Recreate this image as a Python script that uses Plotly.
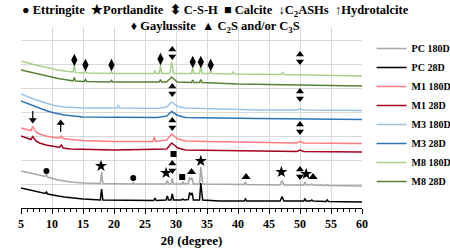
import plotly.graph_objects as go

# ---------------- data (2θ in degrees, relative intensity with offsets) ----------------
m8_180_x = [5, 6, 7, 8, 9, 10, 11, 12, 13, 13.4, 13.6, 13.8, 15.2, 15.4, 15.6, 19.4, 19.6, 19.8,
            26.4, 26.6, 26.8, 27.3, 27.5, 27.7, 29.0, 29.3, 29.6, 32.5, 32.7, 32.9, 33.8, 34.0, 34.2,
            35.4, 35.6, 35.8, 39.0, 39.2, 39.4, 47.0, 47.2, 47.4, 60]
m8_180_y = [147, 145, 143.5, 142, 140.5, 139, 138, 137, 136, 136, 143, 135.5, 135, 137, 135, 134.5, 136.5, 134.5,
            134.5, 137.5, 134.5, 134.5, 143, 134.5, 134.5, 146, 134.5, 134.5, 140, 134.5, 134.5, 142, 134.5,
            134.5, 137.5, 134.5, 134, 136, 134, 133.5, 136, 133.5, 132]

m8_28_x = [5, 7, 9, 11, 13, 13.4, 13.6, 13.8, 15.2, 15.4, 15.6, 19.4, 19.6, 19.8, 27.3, 27.5, 27.7,
           28.5, 29.3, 30.2, 32.5, 32.7, 32.9, 33.8, 34.0, 34.2, 40, 60]
m8_28_y = [138, 135, 132, 129.5, 127.5, 127, 130.5, 127, 126.5, 128.5, 126.5, 126, 127.5, 126, 126, 128.5, 126,
           126, 131, 126, 125.5, 128, 125.5, 125.5, 128.5, 125.5, 124, 122]

m3_180_x = [5, 7, 9, 10.4, 12, 15, 20.5, 20.7, 20.9, 27, 28.5, 29.3, 30.3, 31.5, 43, 49.5, 50, 50.5, 60]
m3_180_y = [114, 109, 105, 102.5, 101, 100, 100, 103, 100, 99.5, 101, 106, 101.5, 100, 98, 98, 99, 98, 97.5]

m3_28_x = [5, 7, 9, 10.4, 12, 15, 27, 28.5, 29.3, 30.3, 31.5, 43, 60]
m3_28_y = [107, 102, 97.5, 95, 93, 91, 90.5, 92, 96.5, 92.5, 90.5, 89.5, 88.5]

m1_180_x = [5, 6, 6.6, 6.9, 7.4, 8, 9, 10.4, 11.2, 11.5, 11.8, 13, 15, 20, 26.3, 26.5, 26.7,
            28.5, 29.3, 30.3, 31.5, 35, 43, 49.5, 50, 50.6, 60]
m1_180_y = [80, 78, 77.5, 81.5, 76, 74, 72, 70.5, 70, 72, 69.5, 68.5, 67.5, 66.5, 66.5, 71, 66.5,
            68, 74, 69, 67, 66.5, 65.5, 65, 66.5, 65, 64.5]

m1_28_x = [5, 6, 6.6, 6.9, 7.4, 8, 9, 10.4, 11.2, 11.5, 11.8, 13, 15, 20, 24.5, 28.5, 29.3, 30.3, 31.5,
           43, 49.5, 50, 50.6, 60]
m1_28_y = [72, 70, 68.5, 71.5, 67, 65, 63, 61.5, 60.5, 63, 60, 59, 58.5, 58, 58.5, 59, 65, 60, 58,
           57, 56.5, 58, 56.5, 56]

pc_180_x = [5, 7, 8.9, 9.1, 9.3, 11, 13, 15, 17.8, 18.0, 18.2, 22.9, 23.1, 23.3, 28.4, 28.6, 28.8,
            29.2, 29.4, 29.6, 30.9, 31.1, 31.3, 32.0, 32.2, 32.4, 32.6, 32.8, 33.8, 34.0, 34.3,
            41.0, 41.2, 41.4, 46.8, 47.1, 47.4, 50.6, 50.8, 51.0, 51.7, 51.9, 52.1, 54.2, 54.4, 54.6, 60]
pc_180_y = [37, 34, 31.5, 33.5, 31, 28, 26, 25, 24.5, 36, 24.5, 24, 25.5, 24, 24, 27.5, 24,
            24, 29.5, 24, 24, 26, 24, 24.5, 30.5, 28, 30, 24, 24, 41, 24,
            23.5, 25.5, 23.5, 23, 27.5, 23, 23, 26, 23, 23, 24, 23, 22.5, 23.5, 22.5, 22]

pc_28_x = [5, 7, 8.9, 9.1, 9.3, 11, 12, 15, 17.8, 18.0, 18.2, 26.4, 26.6, 26.8, 28.4, 28.6, 28.8,
           29.2, 29.4, 29.6, 30.9, 31.1, 31.3, 32.0, 32.2, 32.4, 32.6, 32.8, 33.8, 34.0, 34.3, 37,
           41.0, 41.2, 41.4, 46.8, 47.1, 47.4, 50.6, 50.8, 51.0, 51.7, 51.9, 52.1, 54.2, 54.4, 54.6, 60]
pc_28_y = [20, 17, 14.5, 16, 14, 12, 11, 9, 8, 19, 8, 7.5, 10, 7.5, 8, 12, 8,
           8, 14, 8, 8, 9, 8, 8.5, 15.5, 13, 15, 8, 8, 25, 8, 7,
           7, 9, 7, 7, 11.5, 7, 7, 9, 7, 7, 8, 7, 6.5, 8, 6.5, 6]

# phase markers
ettringite_x = [9.1, 23.1]
ettringite_y = [37, 30]
portlandite_x = [17.9, 28.4, 34.0, 47.0, 51.0]
portlandite_y = [42, 35, 47, 36, 34]
csh_x = [29.4, 50.0, 29.4, 50.0, 29.4, 50.0, 29.4, 50.0]
csh_y = [155, 150, 118, 113, 84, 80, 41, 35]
calcite_x = [29.6, 31.0]
calcite_y = [54, 31]
c2s_x = [32.5, 41.3, 52.1]
c2s_y = [36, 31, 31]
gaylussite_x = [13.6, 15.4, 19.6, 27.5, 32.7, 34.0, 35.6]
gaylussite_y = [148, 143, 143, 149, 146, 146, 143]
c2ashs_x = [6.9]
c2ashs_y = [88]
hydrotalcite_x = [11.4]
hydrotalcite_y = [85]

series = [
    ("PC 180D", pc_180_x, pc_180_y, "#a6a6a6"),
    ("PC 28D", pc_28_x, pc_28_y, "#000000"),
    ("M1 180D", m1_180_x, m1_180_y, "#ff7c80"),
    ("M1 28D", m1_28_x, m1_28_y, "#a50021"),
    ("M3 180D", m3_180_x, m3_180_y, "#9dc3e6"),
    ("M3 28D", m3_28_x, m3_28_y, "#2e75b6"),
    ("M8 180D", m8_180_x, m8_180_y, "#a9d18e"),
    ("M8 28D", m8_28_x, m8_28_y, "#548235"),
]

SERIF = "Liberation Serif"
fig = go.Figure()
for name, xs, ys, col in series:
    fig.add_trace(go.Scatter(x=xs, y=ys, mode="lines", name=name,
                             line=dict(color=col, width=1.5)))


def mk(xs, ys, symbol, size):
    fig.add_trace(go.Scatter(x=xs, y=ys, mode="markers", showlegend=False, hoverinfo="skip",
                             marker=dict(symbol=symbol, size=size, color="black",
                                         line=dict(width=0))))


mk(ettringite_x, ettringite_y, "circle", 6)
mk(portlandite_x, portlandite_y, "star", 9)
mk(csh_x, [v + 3.5 for v in csh_y], "triangle-up", 7)
mk(csh_x, [v - 3.5 for v in csh_y], "triangle-down", 7)
mk(calcite_x, calcite_y, "square", 6)
mk(c2s_x, c2s_y, "triangle-up", 8)
mk(gaylussite_x, gaylussite_y, "diamond-tall", 9)
mk(c2ashs_x, c2ashs_y, "triangle-down", 7)
mk(hydrotalcite_x, hydrotalcite_y, "triangle-up", 7)
# arrow stems
stem_x, stem_y = [], []
for x0, y0 in zip(c2ashs_x, c2ashs_y):
    stem_x += [x0, x0, None]
    stem_y += [y0, y0 + 9, None]
for x0, y0 in zip(hydrotalcite_x, hydrotalcite_y):
    stem_x += [x0, x0, None]
    stem_y += [y0, y0 - 9, None]
fig.add_trace(go.Scatter(x=stem_x, y=stem_y, mode="lines", showlegend=False, hoverinfo="skip",
                         line=dict(color="black", width=1.2)))

fig.add_annotation(
    text="● Ettringite  ★Portlandite  ⬍ C-S-H  ■ Calcite  ↓C<sub>2</sub>ASHs  ↑Hydrotalcite<br>"
         "♦ Gaylussite  ▲ C<sub>2</sub>S and/or C<sub>3</sub>S",
    xref="paper", yref="paper", x=0.57, y=1.045, xanchor="center", yanchor="middle",
    showarrow=False, align="center",
    font=dict(family=SERIF, size=12.5, color="black", weight="bold"))

fig.update_layout(
    width=450, height=248,
    margin=dict(l=21, r=88, t=27, b=40, autoexpand=False),
    paper_bgcolor="white", plot_bgcolor="white",
    showlegend=True,
    legend=dict(x=1.028, y=0.962, xanchor="left", yanchor="top",
                font=dict(family=SERIF, size=10, color="black", weight="bold"),
                bgcolor="rgba(0,0,0,0)", itemwidth=30, tracegroupgap=0),
    xaxis=dict(range=[5, 60], tick0=5, dtick=5, showgrid=True, gridcolor="#d9d9d9", gridwidth=1,
               showline=True, linecolor="black", linewidth=1, ticks="outside", ticklen=5,
               tickcolor="black", zeroline=False,
               minor=dict(dtick=1, ticks="outside", ticklen=3, tickcolor="black", showgrid=False),
               tickfont=dict(family=SERIF, size=12, color="black", weight="bold"),
               title=dict(text="2θ (degree)", standoff=6,
                          font=dict(family=SERIF, size=13, color="black", weight="bold"))),
    yaxis=dict(range=[0, 181], tick0=0, dtick=24, showgrid=True, gridcolor="#d9d9d9", gridwidth=1,
               showticklabels=False, showline=False, zeroline=False, ticks=""),
)

fig.write_html("out.html")
